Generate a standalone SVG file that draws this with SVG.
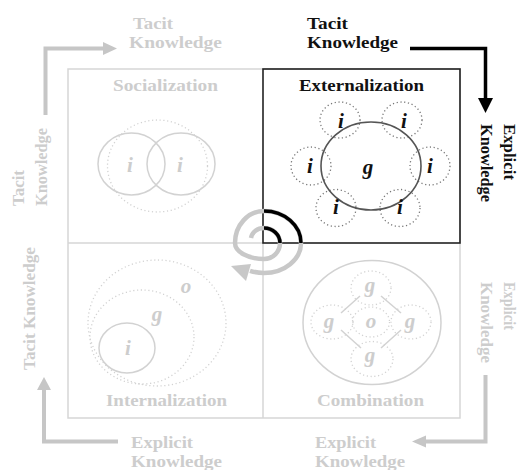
<svg xmlns="http://www.w3.org/2000/svg" width="518" height="470" viewBox="0 0 518 470">
<style>
.t{font-family:"Liberation Serif","Times New Roman",serif;font-weight:bold;font-size:16.5px}
.gr{fill:#cdcdcd}
.bk{fill:#111111}
.lb{font-family:"Liberation Serif","Times New Roman",serif;font-weight:bold;font-style:italic;font-size:21px;text-anchor:middle}
.frame{fill:none;stroke:#d6d6d6;stroke-width:1.5}
.sg{fill:none;stroke:#d2d2d2;stroke-width:1.5}
.dg{fill:none;stroke:#d2d2d2;stroke-width:1.3;stroke-dasharray:1.2 2.6}
.sd{fill:none;stroke:#555555;stroke-width:1.6}
.dd{fill:none;stroke:#777777;stroke-width:1.3;stroke-dasharray:1.2 2.6}
.ga{fill:none;stroke:#c6c6c6;stroke-width:4}
</style>
<rect width="518" height="470" fill="#ffffff"/>
<g id="frame">
<rect class="frame" x="68" y="69" width="392" height="349"/>
<line class="frame" x1="263" y1="243" x2="263" y2="418"/>
<line class="frame" x1="68" y1="243" x2="263" y2="243"/>
</g>
<g id="socialization">
<text class="t gr" x="113" y="91" textLength="105" lengthAdjust="spacingAndGlyphs">Socialization</text>
<ellipse class="dg" cx="157.5" cy="166" rx="50" ry="46"/>
<ellipse class="sg" cx="131.5" cy="164" rx="33.5" ry="31"/>
<ellipse class="sg" cx="181" cy="164" rx="34" ry="31"/>
<text class="lb gr" x="130" y="172">i</text>
<text class="lb gr" x="180" y="172">i</text>
</g>
<g id="externalization">
<rect x="263" y="69" width="197" height="174" fill="none" stroke="#222222" stroke-width="1.6"/>
<text class="t bk" x="299" y="91" textLength="125" lengthAdjust="spacingAndGlyphs">Externalization</text>
<ellipse class="dd" cx="340" cy="120" rx="20" ry="18"/>
<ellipse class="dd" cx="402" cy="120" rx="20" ry="18"/>
<ellipse class="dd" cx="311" cy="166" rx="20" ry="19"/>
<ellipse class="dd" cx="430" cy="166" rx="20" ry="19"/>
<ellipse class="dd" cx="336" cy="208" rx="20" ry="18.5"/>
<ellipse class="dd" cx="400" cy="208" rx="20" ry="18.5"/>
<ellipse class="sd" cx="371" cy="166" rx="50" ry="44"/>
<text class="lb bk" x="341" y="128">i</text>
<text class="lb bk" x="404" y="128">i</text>
<text class="lb bk" x="310" y="173">i</text>
<text class="lb bk" x="430" y="173">i</text>
<text class="lb bk" x="368" y="174">g</text>
<text class="lb bk" x="336" y="214">i</text>
<text class="lb bk" x="400" y="214">i</text>
</g>
<g id="internalization">
<ellipse class="dg" cx="157" cy="323" rx="69" ry="63"/>
<ellipse class="dg" cx="142" cy="337" rx="52" ry="47"/>
<ellipse class="sg" cx="127" cy="348" rx="28" ry="25"/>
<text class="lb gr" x="186" y="293">o</text>
<text class="lb gr" x="157" y="321">g</text>
<text class="lb gr" x="128" y="355">i</text>
<text class="t gr" x="106" y="406" textLength="121" lengthAdjust="spacingAndGlyphs">Internalization</text>
</g>
<g id="combination">
<ellipse class="sg" cx="372" cy="322.5" rx="69" ry="62"/>
<ellipse class="dg" cx="371" cy="288" rx="20" ry="17"/>
<ellipse class="dg" cx="332" cy="322" rx="21" ry="17"/>
<ellipse class="dg" cx="411" cy="322" rx="20" ry="17"/>
<ellipse class="dg" cx="372" cy="359" rx="21" ry="17.5"/>
<ellipse class="dg" cx="371" cy="322" rx="18.5" ry="15"/>
<line class="sg" x1="341" y1="313" x2="360" y2="296"/>
<line class="sg" x1="381" y1="296" x2="401" y2="313"/>
<line class="sg" x1="341" y1="330" x2="361" y2="348"/>
<line class="sg" x1="381" y1="348" x2="401" y2="330"/>
<text class="lb gr" x="370" y="292">g</text>
<text class="lb gr" x="329" y="328">g</text>
<text class="lb gr" x="371" y="328">o</text>
<text class="lb gr" x="410" y="328">g</text>
<text class="lb gr" x="370" y="362">g</text>
<text class="t gr" x="317" y="406" textLength="107" lengthAdjust="spacingAndGlyphs">Combination</text>
</g>
<g id="spiral">
<path d="M251,238 A13,12 0 0 1 264,228 A16,15 0 0 1 280,243 A16,16 0 0 1 264,259 A29,16 0 0 1 235,243 A29,32 0 0 1 264,211 A37,32 0 0 1 301,243 A37,30 0 0 1 264,273 A37,30 0 0 1 250,270.8" fill="none" stroke="#c8c8c8" stroke-width="4.5"/>
<polygon points="231,266 251,264 246,281" fill="#c8c8c8"/>
<path d="M264,228 A16,15 0 0 1 280,243 M264,211 A37,32 0 0 1 301,243" fill="none" stroke="#000000" stroke-width="3.5"/>
</g>
<g id="labels">
<text class="t gr" x="133" y="29" textLength="40" lengthAdjust="spacingAndGlyphs">Tacit</text>
<text class="t gr" x="129" y="48" textLength="93" lengthAdjust="spacingAndGlyphs">Knowledge</text>
<text class="t bk" x="307" y="29" textLength="41" lengthAdjust="spacingAndGlyphs">Tacit</text>
<text class="t bk" x="307" y="48" textLength="91" lengthAdjust="spacingAndGlyphs">Knowledge</text>
<text class="t gr" transform="translate(24,206) rotate(-90)" textLength="36" lengthAdjust="spacingAndGlyphs">Tacit</text>
<text class="t gr" transform="translate(47,206) rotate(-90)" textLength="78" lengthAdjust="spacingAndGlyphs">Knowledge</text>
<text class="t bk" transform="translate(504,124) rotate(90)" textLength="56" lengthAdjust="spacingAndGlyphs">Explicit</text>
<text class="t bk" transform="translate(481,124) rotate(90)" textLength="78" lengthAdjust="spacingAndGlyphs">Knowledge</text>
<text class="t gr" transform="translate(35,370) rotate(-90)" textLength="123" lengthAdjust="spacingAndGlyphs">Tacit Knowledge</text>
<text class="t gr" transform="translate(504,282) rotate(90)" textLength="48" lengthAdjust="spacingAndGlyphs">Explicit</text>
<text class="t gr" transform="translate(481,282) rotate(90)" textLength="81" lengthAdjust="spacingAndGlyphs">Knowledge</text>
<text class="t gr" x="131" y="448" textLength="62" lengthAdjust="spacingAndGlyphs">Explicit</text>
<text class="t gr" x="131" y="467" textLength="91" lengthAdjust="spacingAndGlyphs">Knowledge</text>
<text class="t gr" x="315" y="448" textLength="61" lengthAdjust="spacingAndGlyphs">Explicit</text>
<text class="t gr" x="315" y="467" textLength="90" lengthAdjust="spacingAndGlyphs">Knowledge</text>
</g>
<g id="connectors">
<path class="ga" d="M45.5,115 V48.5 H104"/>
<polygon points="117,48.5 103,42 103,55" fill="#c6c6c6"/>
<path d="M410,48.5 H485.5 V99" fill="none" stroke="#000000" stroke-width="3.5"/>
<polygon points="485.5,113 478,98 493,98" fill="#000000"/>
<path class="ga" d="M485.5,375 V441.5 H425"/>
<polygon points="412,441.5 426,435.5 426,447.5" fill="#c6c6c6"/>
<path class="ga" d="M118,441.5 H44 V389"/>
<polygon points="44,377 37,390 51,390" fill="#c6c6c6"/>
</g>
</svg>
